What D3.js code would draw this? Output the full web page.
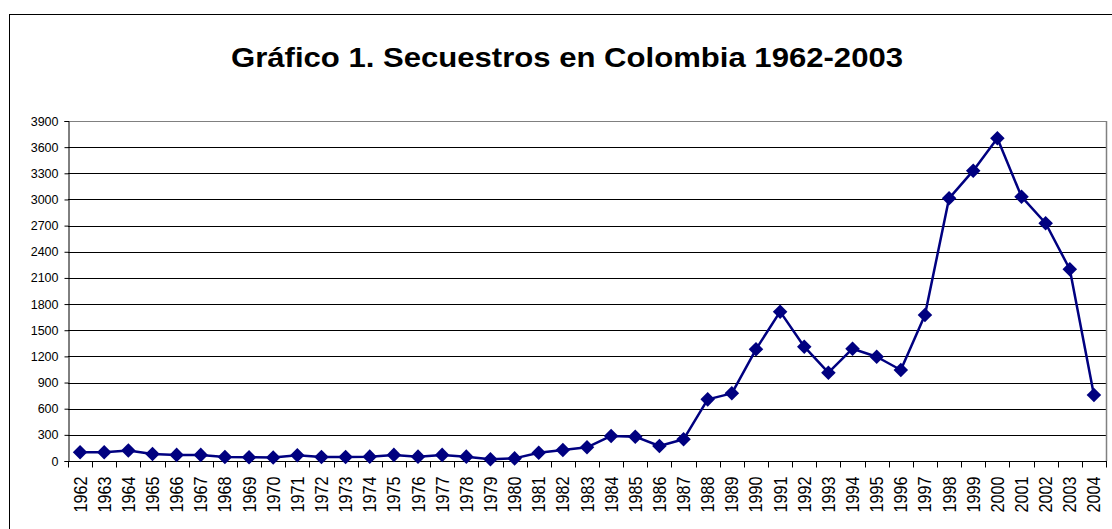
<!DOCTYPE html>
<html>
<head>
<meta charset="utf-8">
<script src="https://cdn.jsdelivr.net/npm/d3@7"></script>
<style>
  html, body { margin: 0; padding: 0; background: #fff; }
  svg { display: block; font-family: "Liberation Sans", Arial, sans-serif; }
</style>
</head>
<body>
<svg id="chart" width="1112" height="529"></svg>
<script>
// Kidnappings per year in Colombia
const years = [
  "1962","1963","1964","1965","1966","1967","1968","1969","1970","1971",
  "1972","1973","1974","1975","1976","1977","1978","1979","1980","1981",
  "1982","1983","1984","1985","1986","1987","1988","1989","1990","1991",
  "1992","1993","1994","1995","1996","1997","1998","1999","2000","2001",
  "2002","2003","2004"
];
const secuestros = [
  100, 100, 120, 80, 70, 70, 45, 42, 40, 65,
  45, 45, 50, 70, 50, 70, 50, 20, 30, 95,
  126, 157, 287, 279, 172, 249, 707, 776, 1281, 1713,
  1311, 1013, 1288, 1196, 1044, 1675, 3013, 3330, 3701, 3032,
  2727, 2199, 757
];
const yTicks = [0, 300, 600, 900, 1200, 1500, 1800, 2100, 2400, 2700, 3000, 3300, 3600, 3900];
const titleText = "Gráfico 1. Secuestros en Colombia 1962-2003";

const svg = d3.select("#chart");
const plot = { left: 68, right: 1106, top: 121, bottom: 461 };

// Outer chart frame
svg.append("rect")
  .attr("x", 9.5).attr("y", 14.5)
  .attr("width", 1120).attr("height", 540)
  .attr("fill", "#fff").attr("stroke", "#000").attr("stroke-width", 1);

svg.append("text")
  .attr("x", 567).attr("y", 67)
  .attr("text-anchor", "middle")
  .attr("font-size", 28).attr("font-weight", "bold")
  .attr("textLength", 672).attr("lengthAdjust", "spacingAndGlyphs")
  .attr("fill", "#000")
  .text(titleText);

const x = d3.scaleBand().domain(years).range([plot.left, plot.right]).padding(0);
const y = d3.scaleLinear().domain([0, 3900]).range([plot.bottom, plot.top]);

// Horizontal gridlines
svg.append("g")
  .selectAll("line")
  .data(yTicks.filter(d => d > 0))
  .join("line")
  .attr("x1", plot.left).attr("x2", plot.right)
  .attr("y1", d => Math.round(y(d)) + 0.5).attr("y2", d => Math.round(y(d)) + 0.5)
  .attr("stroke", d => d === 3900 ? "#808080" : "#000")
  .attr("stroke-width", 1);

// Plot-area frame (right side)
svg.append("line")
  .attr("x1", plot.right + 0.5).attr("x2", plot.right + 0.5)
  .attr("y1", plot.top).attr("y2", plot.bottom)
  .attr("stroke", "#808080").attr("stroke-width", 1.5);

// Y axis
const yAxis = svg.append("g")
  .attr("transform", `translate(${plot.left + 0.5},0)`)
  .call(d3.axisLeft(y).tickValues(yTicks).tickSize(4).tickPadding(6).tickFormat(d3.format("d")));
yAxis.select(".domain").attr("stroke", "#000");
yAxis.selectAll(".tick line").attr("stroke", "#000");
yAxis.selectAll(".tick text")
  .attr("font-size", 12.5).attr("fill", "#000")
  .attr("font-family", "'Liberation Sans', Arial, sans-serif");

// X axis: ticks sit on the category boundaries
const xAxisG = svg.append("g").attr("transform", `translate(0,${plot.bottom + 0.5})`);
xAxisG.append("line")
  .attr("x1", plot.left).attr("x2", plot.right + 1)
  .attr("stroke", "#000");
const boundaries = years.map(d => x(d)).concat([plot.right]);
xAxisG.selectAll("line.tk")
  .data(boundaries)
  .join("line").attr("class", "tk")
  .attr("x1", d => Math.round(d) + 0.5).attr("x2", d => Math.round(d) + 0.5)
  .attr("y1", 0).attr("y2", 6)
  .attr("stroke", "#000");
xAxisG.selectAll("text")
  .data(years)
  .join("text")
  .attr("transform", d => `translate(${x(d) + x.bandwidth() / 2 + 6.5},15) rotate(-90)`)
  .attr("text-anchor", "end")
  .attr("font-size", 17.5)
  .attr("textLength", 36).attr("lengthAdjust", "spacingAndGlyphs")
  .attr("fill", "#000")
  .text(d => d);

// Series line
const line = d3.line()
  .x((d, i) => x(years[i]) + x.bandwidth() / 2)
  .y(d => y(d));
svg.append("path")
  .datum(secuestros)
  .attr("d", line)
  .attr("fill", "none")
  .attr("stroke", "#000080")
  .attr("stroke-width", 2.5)
  .attr("stroke-linejoin", "round");

// Diamond markers
const diamond = d3.symbol().type(d3.symbolDiamond2).size(135);
svg.append("g")
  .selectAll("path")
  .data(secuestros)
  .join("path")
  .attr("transform", (d, i) => `translate(${x(years[i]) + x.bandwidth() / 2},${y(d)})`)
  .attr("d", diamond)
  .attr("fill", "#000080");
</script>
</body>
</html>
